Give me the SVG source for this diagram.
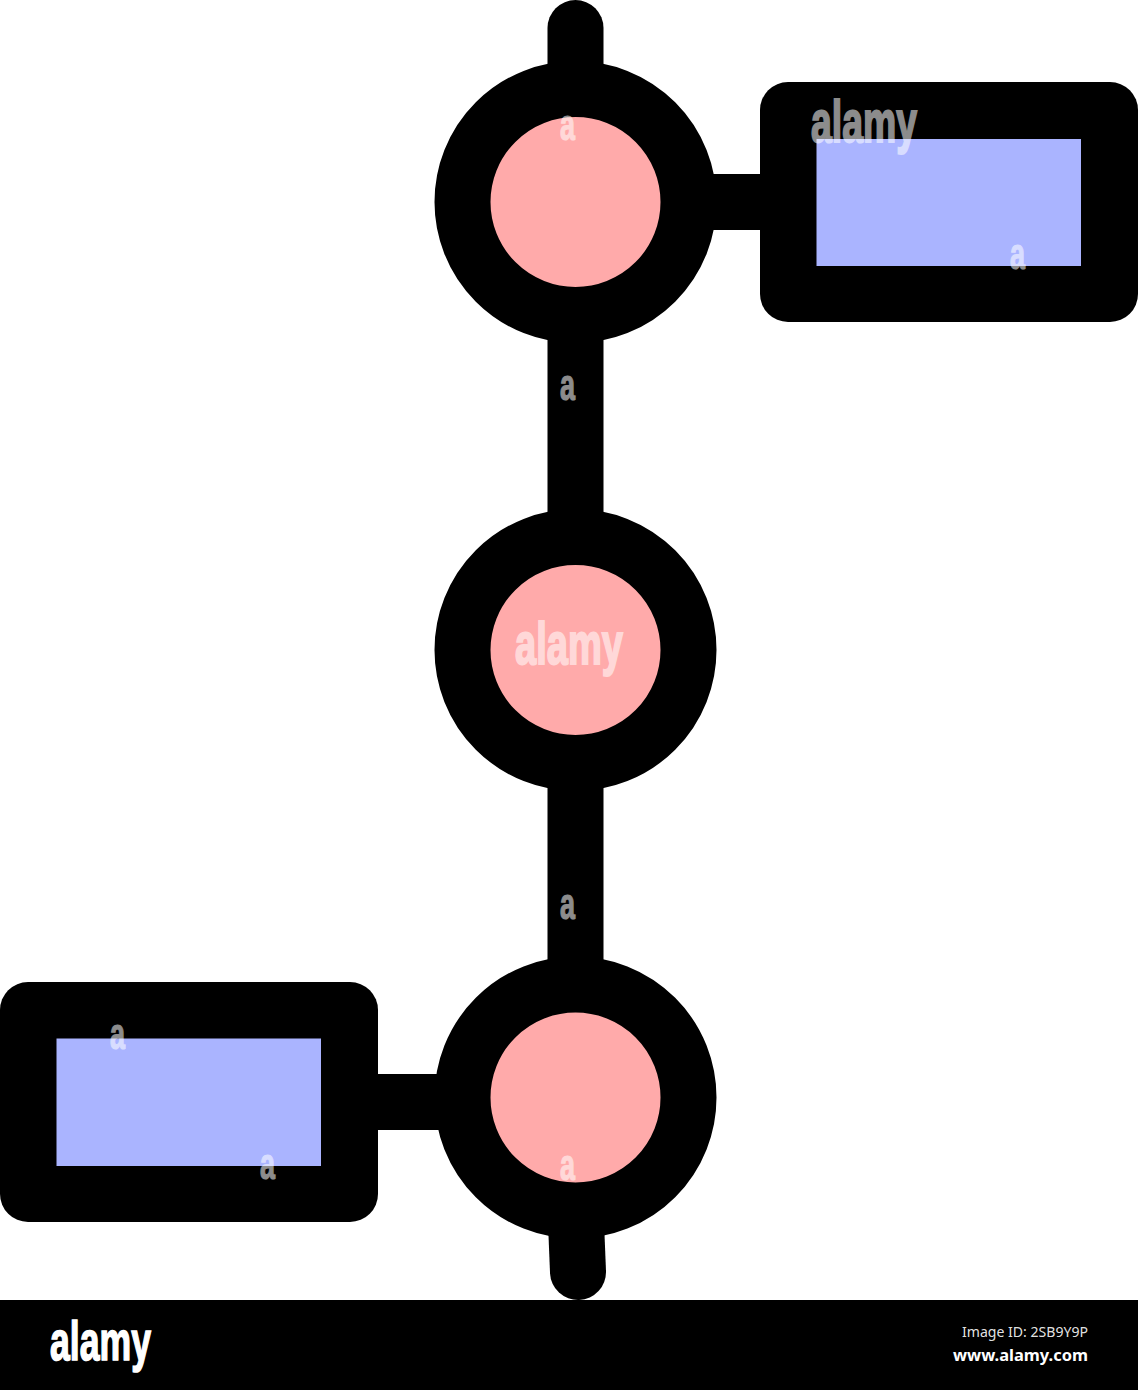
<svg xmlns="http://www.w3.org/2000/svg" width="1138" height="1390" viewBox="0 0 1138 1390">
<style>
.c{fill:#ffaaaa;stroke:#000;stroke-width:56}
.b{fill:#aab4ff;stroke:#000;stroke-width:0}
.l{fill:none;stroke:#000;stroke-width:56;stroke-linecap:round}
.h{fill:none;stroke:#000;stroke-width:56}
.w{font-family:"Liberation Sans",Arial,sans-serif;font-weight:700;fill:#fff;stroke:#fff;stroke-width:2;opacity:.55}
.s{font-size:44px;stroke-width:1.2}
.f{font-family:"Noto Sans",sans-serif;fill:#fff}
</style>
<rect width="1138" height="1390" fill="#fff"/>
<g id="connectors">
<path class="l" d="M575.5 28V90"/>
<path class="h" d="M575.5 320V530"/>
<path class="h" d="M575.5 770V980"/>
<path class="l" d="M575.5 1210L578 1272"/>
<path class="h" d="M690 202H780"/>
<path class="h" d="M360 1102H460"/>
</g>
<g id="node-top"><circle class="c" cx="575.5" cy="202" r="113"/></g>
<g id="node-middle"><circle class="c" cx="575.5" cy="650" r="113"/></g>
<g id="node-bottom"><circle class="c" cx="575.5" cy="1097.5" r="113"/></g>
<g id="box-top-right">
<rect x="760" y="82" width="378" height="240" rx="28" fill="#000"/>
<rect class="b" x="816.500" y="139" width="264.500" height="127"/>
</g>
<g id="box-bottom-left">
<rect x="0" y="982" width="378" height="240" rx="28" fill="#000"/>
<rect class="b" x="56.500" y="1038.500" width="264.500" height="127.500"/>
</g>
<g id="watermarks">
<text class="w" x="811" y="142" font-size="60" textLength="106" lengthAdjust="spacingAndGlyphs">alamy</text>
<text class="w" x="515" y="664" font-size="60" textLength="108" lengthAdjust="spacingAndGlyphs">alamy</text>
<text class="w s" x="560" y="140" textLength="15" lengthAdjust="spacingAndGlyphs">a</text>
<text class="w s" x="1010" y="269" textLength="15" lengthAdjust="spacingAndGlyphs">a</text>
<text class="w s" x="560" y="400" textLength="15" lengthAdjust="spacingAndGlyphs">a</text>
<text class="w s" x="560" y="919" textLength="15" lengthAdjust="spacingAndGlyphs">a</text>
<text class="w s" x="110" y="1049" textLength="15" lengthAdjust="spacingAndGlyphs">a</text>
<text class="w s" x="260" y="1179" textLength="15" lengthAdjust="spacingAndGlyphs">a</text>
<text class="w s" x="560" y="1180" textLength="15" lengthAdjust="spacingAndGlyphs">a</text>
</g>
<g id="footer">
<rect x="0" y="1300" width="1138" height="90" fill="#000"/>
<text x="50" y="1360" font-family="'Liberation Sans',Arial,sans-serif" font-weight="700" font-size="56" fill="#fff" stroke="#fff" stroke-width="1.6" textLength="101" lengthAdjust="spacingAndGlyphs">alamy</text>
<text class="f" x="962" y="1337" font-size="14" fill-opacity=".9" textLength="126" lengthAdjust="spacingAndGlyphs">Image ID: 2SB9Y9P</text>
<text class="f" x="953" y="1361" font-size="16.500" font-weight="700" textLength="135" lengthAdjust="spacingAndGlyphs">www.alamy.com</text>
</g>
</svg>
